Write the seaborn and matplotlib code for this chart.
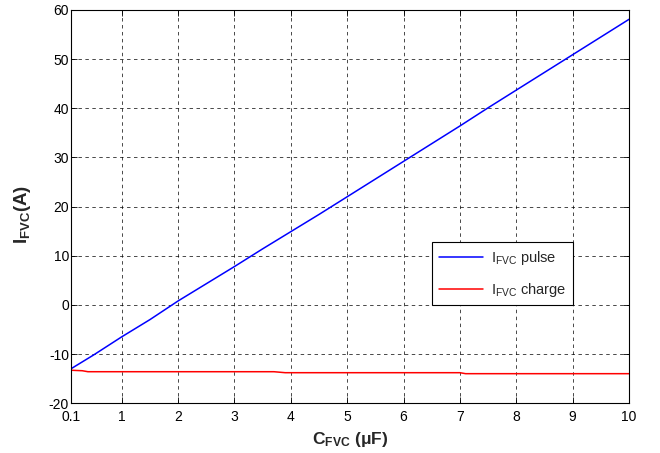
import matplotlib
matplotlib.use("Agg")
import matplotlib.pyplot as plt
import seaborn as sns
import pandas as pd

c_fvc = [0.1, 0.5, 1, 1.5, 2, 2.5, 3, 3.5, 4, 4.5, 5, 5.5, 6, 6.5, 7, 7.5, 8, 8.5, 9, 9.5, 10]
i_pulse = [-13.0, -10.2, -6.5, -3.0, 0.8, 4.3, 7.8, 11.4, 14.9, 18.4, 22.0,
           25.6, 29.2, 32.8, 36.4, 40.1, 43.7, 47.3, 50.9, 54.5, 58.1]
c_charge = [0.1, 0.3, 0.4, 1, 2, 3, 3.7, 3.9, 5, 6, 7.0, 7.1, 8, 9, 10]
i_charge = [-13.3, -13.4, -13.6, -13.6, -13.6, -13.6, -13.6, -13.8, -13.8, -13.8, -13.8, -14.0, -14.0, -14.0, -14.0]

sns.set_style("ticks")
plt.rcParams['font.family'] = ['Liberation Sans', 'DejaVu Sans']
plt.rcParams['mathtext.fontset'] = 'custom'
plt.rcParams['mathtext.rm'] = 'Liberation Sans'
plt.rcParams['mathtext.bf'] = 'Liberation Sans:bold'
plt.rcParams['axes.unicode_minus'] = False

pulse = pd.DataFrame({'C': c_fvc, 'I': i_pulse})
charge = pd.DataFrame({'C': c_charge, 'I': i_charge})

fig = plt.figure(figsize=(6.6, 4.53), dpi=100)
ax = fig.add_axes([0.1076, 0.110, 0.8455, 0.868])

sns.lineplot(data=pulse, x='C', y='I', color='#0000ff', lw=1.1, ax=ax,
             label=r'$\mathrm{I_{FVC}}$ pulse')
sns.lineplot(data=charge, x='C', y='I', color='#ff0000', lw=1.1, ax=ax,
             label=r'$\mathrm{I_{FVC}}$ charge')

ax.set_xlim(0.1, 10)
ax.set_ylim(-20, 60)
ax.set_xticks([0.1, 1, 2, 3, 4, 5, 6, 7, 8, 9, 10])
ax.set_xticklabels(['0.1', '1', '2', '3', '4', '5', '6', '7', '8', '9', '10'])
ax.set_yticks(range(-20, 61, 10))
ax.tick_params(direction='in', top=True, right=True, labelsize=10, length=4,
               width=0.6, colors='black')
ax.tick_params(axis='x', pad=5)
ax.tick_params(axis='y', pad=1.5)
for s in ax.spines.values():
    s.set_color('black')
    s.set_linewidth(0.8)

ax.grid(True, color='black', linestyle=(0, (5, 5)), linewidth=0.5)

ax.set_xlabel(r'$\mathbf{C_{FVC}}$ (μF)', fontsize=12.5, fontweight='bold', labelpad=4)
ax.set_ylabel(r'$\mathbf{I_{FVC}}$(A)', fontsize=13.5, fontweight='bold')
ax.yaxis.set_label_coords(-0.068, 0.48)

leg = ax.legend(loc='lower right', bbox_to_anchor=(0.9, 0.249), fontsize=10.5,
                fancybox=False, edgecolor='black', framealpha=1, handlelength=3.0,
                borderaxespad=0, borderpad=0.45, labelspacing=0.95, handletextpad=0.6)
leg.get_frame().set_linewidth(0.8)

fig.savefig('out.png', dpi=100)
